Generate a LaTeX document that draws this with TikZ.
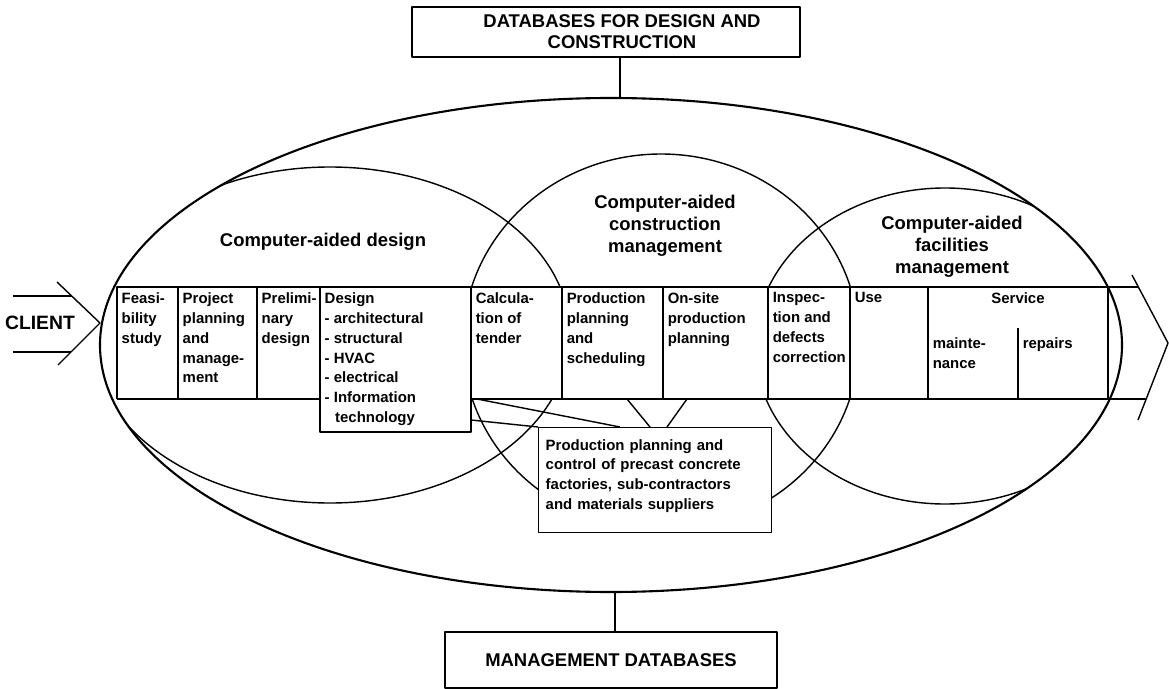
\documentclass[tikz,border=0pt]{standalone}
\usepackage{fontspec}
\setmainfont{Liberation Sans}

\tikzset{
  cell/.style={anchor=north west, align=left, inner xsep=2.5pt, inner ysep=3pt,
    font=\fontsize{8.5}{11.3}\selectfont\bfseries},
  heading/.style={align=center, font=\fontsize{10.5}{12.5}\selectfont\bfseries},
  dbbox/.style={draw, thick, fill=white, align=center,
    font=\fontsize{10.5}{12}\selectfont\bfseries},
}

\begin{document}
\begin{tikzpicture}[line join=round]
    \useasboundingbox (0,0) rectangle (23.38,13.76);

    % Database boxes
    \node[dbbox, minimum width=7.76cm, minimum height=1cm] (dbdesign) at (12.12,13.12) {\hspace*{0.64cm}DATABASES FOR DESIGN AND\\\hspace*{0.64cm}CONSTRUCTION};
    \node[dbbox, minimum width=6.64cm, minimum height=1.12cm] (dbmgmt) at (12.22,0.56) {MANAGEMENT DATABASES};

    % Areas of computer aid
    \begin{scope}
        \clip (12.22,6.86) ellipse [x radius=10.22, y radius=4.94];
        \draw[thick] (6.60,7.06) ellipse [x radius=4.80, y radius=3.36];
        \draw[thick] (13.22,6.92) ellipse [x radius=3.96, y radius=3.76];
        \draw[thick] (18.90,6.84) ellipse [x radius=3.80, y radius=3.16];
    \end{scope}
    \draw[very thick] (12.22,6.86) ellipse [x radius=10.22, y radius=4.94];
    \coordinate (outertop) at (12.40,11.80);
    \coordinate (outerbot) at (12.30,1.92);

    % Links to databases
    \draw[thick] (dbdesign.south -| outertop) -- (outertop);
    \draw[thick] (outerbot) -- (dbmgmt.north -| outerbot);

    % Headings
    \node[heading] (cad) at (6.46,8.92) {Computer-aided design};
    \node[heading] (cacm) at (13.30,9.24) {Computer-aided\\construction\\management};
    \node[heading] (cafm) at (19.04,8.82) {Computer-aided\\facilities\\management};

    % Process band
    \fill[white] (2.34,8.02) rectangle (22.16,5.78);
    \fill[white] (6.40,5.78) rectangle (9.42,5.12);
    \draw[thick] (2.34,5.78) -- (2.34,8.02) -- (22.77,8.02);
    \draw[thick] (2.34,5.78) -- (6.40,5.78);
    \draw[thick] (9.42,5.78) -- (22.92,5.78);
    \draw[thick] (6.40,8.02) -- (6.40,5.12) -- (9.42,5.12) -- (9.42,8.02);
    \foreach \x in {3.56,5.14,11.24,13.26,15.36,17.00,18.56,22.16}
        \draw[thick] (\x,8.02) -- (\x,5.78);
    \draw[thick] (20.36,7.20) -- (20.36,5.78);
    \draw[thick] (22.64,8.26) -- (23.36,6.90) -- (22.76,5.36);

    % Process steps
    \node[cell] (feas) at (2.34,8.02) {Feasi-\\bility\\study};
    \node[cell] (projplan) at (3.56,8.02) {Project\\planning\\and\\manage-\\ment};
    \node[cell] (prelim) at (5.14,8.02) {Prelimi-\\nary\\design};
    \node[cell] (design) at (6.40,8.02) {Design\\- architectural\\- structural\\- HVAC\\- electrical\\- Information\\\hspace*{0.7em}technology};
    \node[cell] (tender) at (9.42,8.02) {Calcula-\\tion of\\tender};
    \node[cell] (prodplan) at (11.24,8.02) {Production\\planning\\and\\scheduling};
    \node[cell] (onsite) at (13.26,8.02) {On-site\\production\\planning};
    \node[cell] (inspect) at (15.36,8.02) {Inspec-\\tion and\\defects\\correction};
    \node[cell] (use) at (17.00,8.02) {Use};
    \node[cell, anchor=north] (service) at (20.36,8.02) {Service};
    \node[cell] (maint) at (18.56,7.12) {mainte-\\nance};
    \node[cell] (repairs) at (20.36,7.12) {repairs};

    % Precast production
    \node[cell, draw, thick, fill=white, text width=4.38cm, minimum height=2.10cm, inner xsep=4pt, inner ysep=5.5pt] (precast) at (10.76,5.22) {Production planning and\\control of precast concrete\\factories, sub-contractors\\and materials suppliers\\[-4.7pt]\mbox{}};
    \coordinate (dsgnlow) at (9.42,5.36);
    \coordinate (dsgnband) at (9.54,5.78);
    \coordinate (prodleft) at (12.54,5.78);
    \coordinate (prodright) at (13.74,5.78);
    \draw[thick] (dsgnlow) -- (precast.north west);
    \draw[thick] (dsgnband) -- ([xshift=1.64cm]precast.north west);
    \draw[thick] (prodleft) -- ([xshift=2.24cm]precast.north west);
    \draw[thick] (prodright) -- ([xshift=2.58cm]precast.north west);

    % Client
    \node[font=\fontsize{11}{13}\selectfont\bfseries] (client) at (0.80,7.30) {CLIENT};
    \draw[thick] (0.26,7.84) -- (1.43,7.84);
    \draw[thick] (0.26,6.72) -- (1.42,6.72);
    \draw[thick] (1.14,8.12) -- (2.00,7.30) -- (1.16,6.46);
\end{tikzpicture}
\end{document}
